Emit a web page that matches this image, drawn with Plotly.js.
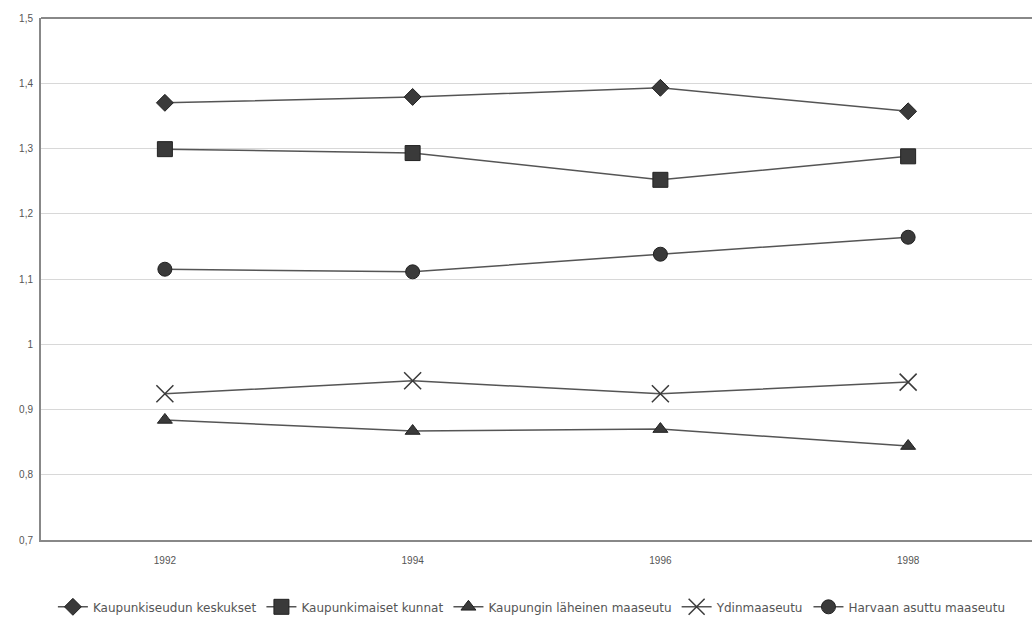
<!DOCTYPE html>
<html>
<head>
<meta charset="utf-8">
<script src="https://cdn.plot.ly/plotly-3.0.1.min.js"></script>
<style>html,body{margin:0;padding:0;background:#fff;}</style>
</head>
<body>
<div id="chart" style="width:1032px;height:625px;"></div>
<script>
const years = ["1992", "1994", "1996", "1998"];
const seriesNames = ["Kaupunkiseudun keskukset", "Kaupunkimaiset kunnat", "Kaupungin läheinen maaseutu", "Ydinmaaseutu", "Harvaan asuttu maaseutu"];
const keskukset = [1.370, 1.379, 1.393, 1.357];
const kunnat = [1.299, 1.293, 1.252, 1.288];
const lahimaaseutu = [0.884, 0.867, 0.870, 0.844];
const ydinmaaseutu = [0.924, 0.944, 0.924, 0.942];
const harvaan = [1.115, 1.111, 1.138, 1.164];
const yTicks = [0.7, 0.8, 0.9, 1.0, 1.1, 1.2, 1.3, 1.4, 1.5];

const values = [keskukset, kunnat, lahimaaseutu, ydinmaaseutu, harvaan];
const symbols = ["diamond", "square", "triangle-up", "x-thin-open", "circle"];
const sizes = [13, 15, 13, 17, 14];

const traces = values.map((v, i) => ({
  x: years,
  y: v,
  name: seriesNames[i],
  type: "scatter",
  mode: "lines+markers",
  line: {color: "#555", width: 1.5},
  marker: {
    symbol: symbols[i],
    size: sizes[i],
    color: "#3a3a3a",
    line: {color: i === 3 ? "#444" : "#222", width: i === 3 ? 1.5 : 1}
  }
}));

const layout = {
  width: 1032,
  height: 625,
  margin: {l: 41, r: 0, t: 18, b: 85},
  paper_bgcolor: "#fff",
  plot_bgcolor: "#fff",
  separators: ", ",
  showlegend: true,
  legend: {
    orientation: "h",
    x: 0.012,
    xanchor: "left",
    y: -0.128,
    yanchor: "middle",
    font: {family: "DejaVu Sans, sans-serif", size: 12, color: "#555"},
    itemwidth: 30,
    tracegroupgap: 0
  },
  xaxis: {
    type: "category",
    range: [-0.5, 3.5],
    showgrid: false,
    showline: true,
    linecolor: "#888",
    linewidth: 2,
    mirror: false,
    ticks: "",
    ticklabelstandoff: 10,
    tickfont: {family: "Liberation Sans, Arial, sans-serif", size: 10, color: "#555"},
    fixedrange: true
  },
  yaxis: {
    range: [0.7, 1.5],
    tickvals: yTicks,
    showgrid: true,
    gridcolor: "#d8d8d8",
    gridwidth: 1,
    zeroline: false,
    showline: true,
    linecolor: "#888",
    linewidth: 2,
    mirror: false,
    ticks: "",
    ticklabelstandoff: 4,
    tickfont: {family: "Liberation Sans, Arial, sans-serif", size: 10, color: "#555"},
    fixedrange: true
  },
  shapes: [{
    type: "line", xref: "paper", yref: "paper", x0: 0, x1: 1, y0: 1, y1: 1,
    line: {color: "#888", width: 2}
  }]
};

Plotly.newPlot("chart", traces, layout, {displayModeBar: false, staticPlot: true});
</script>
</body>
</html>
